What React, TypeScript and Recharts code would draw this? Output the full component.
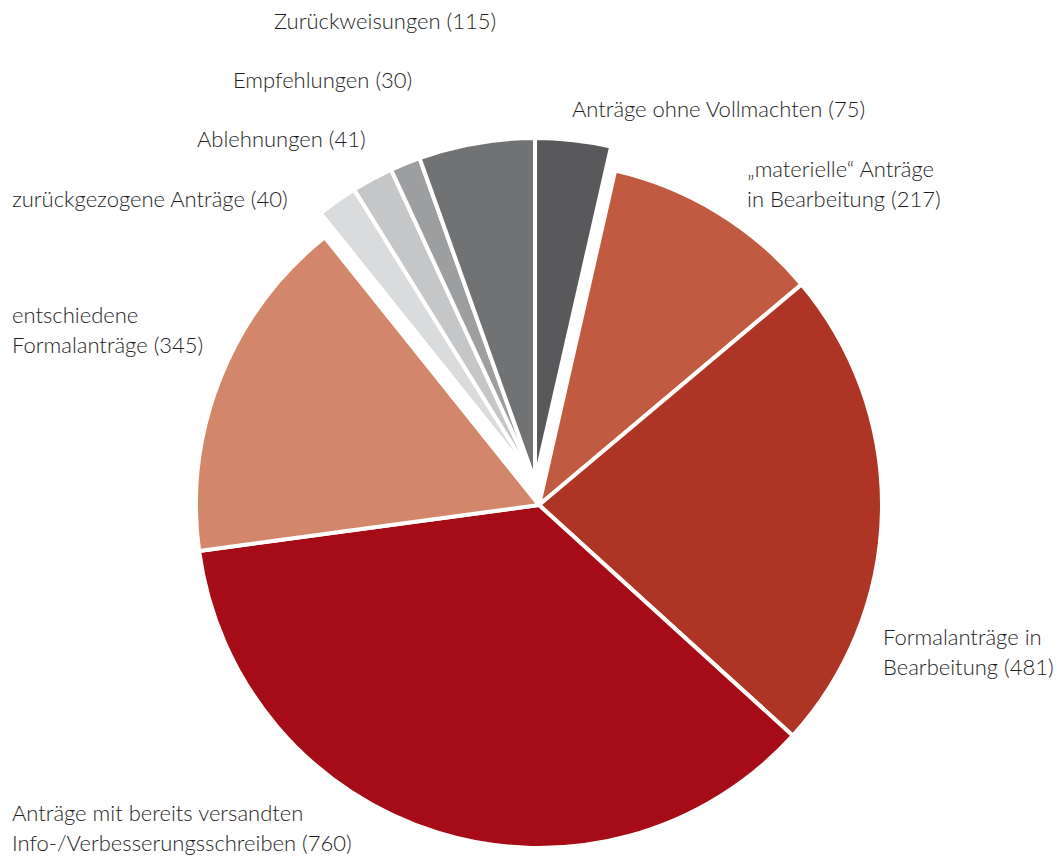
import React from "react";
import { PieChart, Pie, Cell } from "recharts";

// ---- data ----
const categories = [
  "Anträge ohne Vollmachten",
  "„materielle“ Anträge\nin Bearbeitung",
  "Formalanträge in\nBearbeitung",
  "Anträge mit bereits versandten\nInfo-/Verbesserungsschreiben",
  "entschiedene\nFormalanträge",
  "zurückgezogene Anträge",
  "Ablehnungen",
  "Empfehlungen",
  "Zurückweisungen",
];
const values = [75, 217, 481, 760, 345, 40, 41, 30, 115];
// which group a slice belongs to: 0 = main pie, 1 = lifted top cluster
const groups = [1, 0, 0, 0, 0, 1, 1, 1, 1];

// ---- styles / layout ----
const colors = [
  "#59595b",
  "#c05a40",
  "#ae3426",
  "#a60c18",
  "#d3876a",
  "#dadbdd",
  "#c5c6c8",
  "#9d9ea0",
  "#717274",
];
const labelLayout = [
  { x: 572, y: 117 },
  { x: 747, y: 177 },
  { x: 883, y: 645 },
  { x: 12, y: 821 },
  { x: 12, y: 323 },
  { x: 12, y: 207 },
  { x: 197, y: 147 },
  { x: 233, y: 88 },
  { x: 274, y: 29 },
];
const centers = [
  { cx: 539, cy: 505 },
  { cx: 535, cy: 481 },
];
const W = 1062;
const H = 856;
const R = 343;
const LINE = 29.5;
const FONT = "Lato, 'Noto Sans', sans-serif";

const data = categories.map((name, i) => ({ name, value: values[i] }));

const renderLabel = (props: any) => {
  const i = props.index;
  const pos = labelLayout[i];
  const lines = String(categories[i]).split("\n");
  lines[lines.length - 1] = `${lines[lines.length - 1]} (${values[i]})`;
  return (
    <text
      key={`lbl-${i}`}
      x={pos.x}
      y={pos.y}
      fill="#1e1e1e"
      fontFamily={FONT}
      fontSize={22}
      fontWeight={300}
      textAnchor="start"
    >
      {lines.map((l, k) => (
        <tspan key={k} x={pos.x} dy={k === 0 ? 0 : LINE}>
          {l}
        </tspan>
      ))}
    </text>
  );
};

export default function App() {
  return (
    <div style={{ position: "absolute", left: 0, top: 0, width: W, height: H, background: "#fff" }}>
      <PieChart width={W} height={H} margin={{ top: 0, right: 0, bottom: 0, left: 0 }}>
        {centers.map((c, g) => (
          <Pie
            key={g}
            data={data}
            dataKey="value"
            nameKey="name"
            cx={c.cx}
            cy={c.cy}
            innerRadius={0}
            outerRadius={R}
            startAngle={90}
            endAngle={-270}
            stroke="#ffffff"
            strokeWidth={4}
            isAnimationActive={false}
            labelLine={false}
            label={g === 0 ? renderLabel : false}
          >
            {data.map((_, i) => (
              <Cell
                key={i}
                fill={groups[i] === g ? colors[i] : "none"}
                stroke={groups[i] === g ? "#ffffff" : "none"}
                strokeWidth={4}
              />
            ))}
          </Pie>
        ))}
      </PieChart>
    </div>
  );
}
